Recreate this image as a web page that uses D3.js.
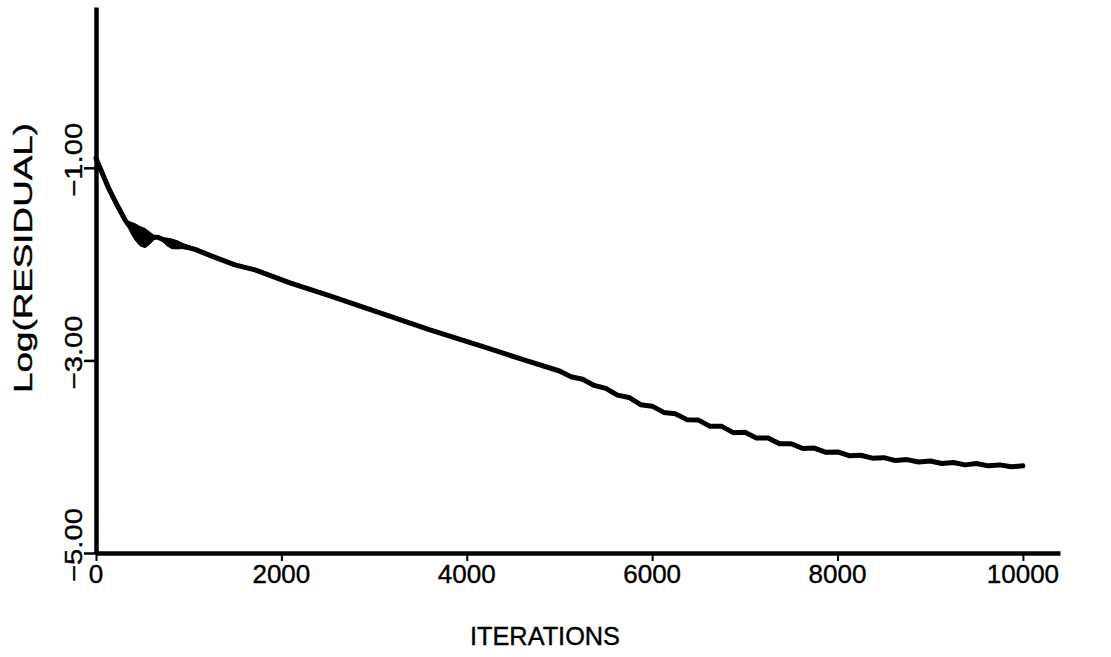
<!DOCTYPE html>
<html>
<head>
<meta charset="utf-8">
<script src="https://cdn.jsdelivr.net/npm/d3@7"></script>
<style>
  html, body { margin: 0; padding: 0; background: #fff; }
  svg { display: block; }
  text { font-family: "Liberation Sans", Arial, sans-serif; fill: #000; stroke: #000; stroke-width: 0.4; }
</style>
</head>
<body>
<svg id="canvas" width="1111" height="657"></svg>
<script>
// values
var iterations = [0, 129, 237, 313, 345, 380, 421, 475, 529, 583, 636, 669, 712, 766, 820, 880, 928, 1068, 1284, 1499, 1715,
    2093, 2524, 3064, 3603, 4218, 4600, 5000,
    5125, 5250, 5375, 5500, 5625, 5750, 5875, 6000, 6125, 6250, 6375, 6500, 6625, 6750, 6875, 7000,
    7125, 7250, 7375, 7500, 7625, 7750, 7875, 8000, 8125, 8250, 8375, 8500, 8625, 8750, 8875, 9000,
    9125, 9250, 9375, 9500, 9625, 9750, 9875, 10000];
var residual = [-0.90, -1.197, -1.405, -1.54, -1.585, -1.625, -1.665, -1.71, -1.73, -1.73, -1.722, -1.722, -1.74, -1.77, -1.79, -1.80, -1.81, -1.847, -1.93, -2.008, -2.06,
    -2.195, -2.33, -2.506, -2.683, -2.87, -2.99, -3.11,
    -3.17, -3.195, -3.26, -3.29, -3.36, -3.385, -3.46, -3.475, -3.54, -3.555, -3.615, -3.62, -3.685, -3.685, -3.75, -3.745,
    -3.805, -3.805, -3.865, -3.865, -3.915, -3.91, -3.955, -3.95, -3.99, -3.985, -4.015, -4.01, -4.04, -4.03, -4.055, -4.045,
    -4.07, -4.06, -4.085, -4.07, -4.095, -4.085, -4.105, -4.095];
// half width of the oscillation band
var spread = [0, 0, 0, 0.005, 0.03, 0.06, 0.085, 0.1, 0.1, 0.06, 0.015, 0.005, 0.015, 0.04, 0.05, 0.042, 0.028, 0.015, 0.01, 0.008, 0.006,
    0.005, 0.005, 0.005, 0.005, 0.005, 0.005, 0.005,
    0.005, 0.005, 0.005, 0.006, 0.008, 0.008, 0.01, 0.01, 0.01, 0.01, 0.01, 0.01, 0.01, 0.008, 0.006, 0.006,
    0.004, 0.004, 0.004, 0.004, 0.004, 0.004, 0.003, 0.003, 0, 0, 0, 0, 0, 0, 0, 0,
    0, 0, 0, 0, 0, 0, 0, 0];

var xTicks = [0, 2000, 4000, 6000, 8000, 10000];
var xTickLabels = ["0", "2000", "4000", "6000", "8000", "10000"];
var yTicks = [-1, -3, -5];
var yTickLabels = ["\u22121.00", "\u22123.00", "\u22125.00"];

var svg = d3.select("#canvas");

var x = d3.scaleLinear().domain([0, 10400]).range([96, 1060]);
var y = d3.scaleLinear().domain([-5, 0.67]).range([553, 7]);

var data = iterations.map(function(it, i){
    return {it: it, v: residual[i], s: spread[i]};
});

// band
var area = d3.area()
    .x(function(d){ return x(d.it); })
    .y0(function(d){ return y(d.v - d.s); })
    .y1(function(d){ return y(d.v + d.s); });
svg.append("path").datum(data)
    .attr("d", area)
    .attr("fill", "#000")
    .attr("stroke", "#000")
    .attr("stroke-width", 1);

// curve
var line = d3.line()
    .x(function(d){ return x(d.it); })
    .y(function(d){ return y(d.v); });
svg.append("path").datum(data)
    .attr("d", line)
    .attr("fill", "none")
    .attr("stroke", "#000")
    .attr("stroke-width", 5)
    .attr("stroke-linejoin", "round")
    .attr("stroke-linecap", "round");

// x axis
var gx = svg.append("g")
    .attr("transform", "translate(0," + y(-5) + ")")
    .call(d3.axisBottom(x).tickValues(xTicks).tickSize(8).tickSizeOuter(0).tickFormat(""));
gx.select(".domain").attr("stroke-width", 4.5);
gx.selectAll(".tick line").attr("stroke-width", 2);

// y axis
var gy = svg.append("g")
    .attr("transform", "translate(" + x(0) + ",0)")
    .call(d3.axisLeft(y).tickValues(yTicks).tickSize(12).tickSizeOuter(0).tickFormat(""));
gy.select(".domain").attr("stroke-width", 4.5);
gy.selectAll(".tick line").attr("stroke-width", 2.5);

// tick labels
svg.selectAll(".xlab").data(xTicks).enter().append("text")
    .attr("class", "xlab")
    .attr("x", function(d){ return x(d); })
    .attr("y", 583)
    .attr("text-anchor", "middle")
    .attr("font-size", 26)
    .text(function(d, i){ return xTickLabels[i]; });

svg.selectAll(".ylab").data(yTicks).enter().append("text")
    .attr("class", "ylab")
    .attr("transform", function(d){ return "translate(82," + (y(d) - 8) + ") rotate(-90)"; })
    .attr("text-anchor", "middle")
    .attr("font-size", 24)
    .attr("textLength", 74)
    .attr("lengthAdjust", "spacingAndGlyphs")
    .text(function(d, i){ return yTickLabels[i]; });

// axis titles
svg.append("text")
    .attr("x", 545)
    .attr("y", 645)
    .attr("text-anchor", "middle")
    .attr("font-size", 25)
    .attr("textLength", 150)
    .attr("lengthAdjust", "spacingAndGlyphs")
    .text("ITERATIONS");

svg.append("text")
    .attr("transform", "translate(32,258) rotate(-90)")
    .attr("text-anchor", "middle")
    .attr("font-size", 26)
    .attr("textLength", 270)
    .attr("lengthAdjust", "spacingAndGlyphs")
    .text("Log(RESIDUAL)");
</script>
</body>
</html>
